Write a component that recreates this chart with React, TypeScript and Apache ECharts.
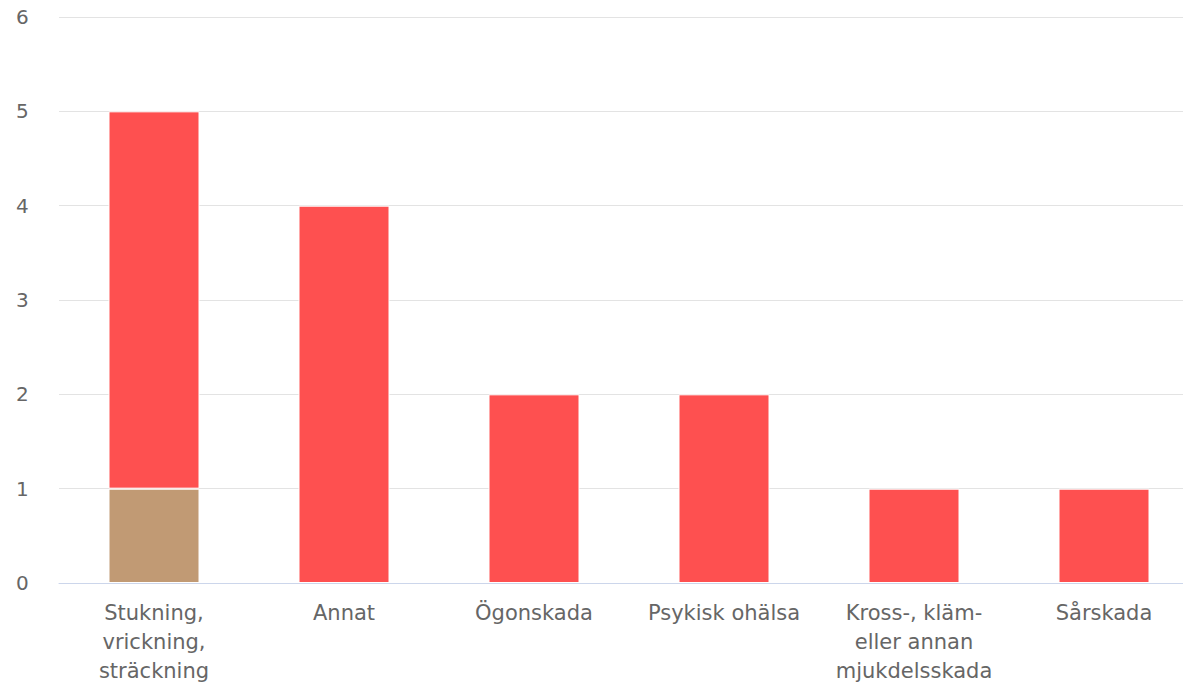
import React, { useEffect, useRef } from "react";
import * as echarts from "echarts";

const categories = [
  "Stukning,\nvrickning,\nsträckning",
  "Annat",
  "Ögonskada",
  "Psykisk ohälsa",
  "Kross-, kläm-\neller annan\nmjukdelsskada",
  "Sårskada",
];
const seriesBrown = [1, 0, 0, 0, 0, 0];
const seriesRed = [4, 4, 2, 2, 1, 1];
const yTicks = [0, 1, 2, 3, 4, 5, 6];

export default function App() {
  const ref = useRef<HTMLDivElement>(null);
  useEffect(() => {
    const chart = echarts.init(ref.current!, null, { renderer: "svg" });
    const font = "DejaVu Sans";
    chart.setOption({
      animation: false,
      grid: { left: 59, right: 1, top: 17, bottom: 103, containLabel: false },
      xAxis: {
        type: "category",
        data: categories,
        axisLine: { lineStyle: { color: "#ccd6eb", width: 1 } },
        axisTick: { show: false },
        axisLabel: {
          color: "#666666",
          fontFamily: font,
          fontSize: 21,
          lineHeight: 29,
          margin: 15,
          interval: 0,
        },
      },
      yAxis: {
        type: "value",
        min: yTicks[0],
        max: yTicks[yTicks.length - 1],
        interval: 1,
        splitLine: { lineStyle: { color: "#e3e3e3", width: 1 } },
        axisLine: { show: false },
        axisTick: { show: false },
        axisLabel: {
          color: "#666666",
          fontFamily: font,
          fontSize: 20,
          align: "left",
          margin: 43,
        },
      },
      series: [
        {
          type: "bar",
          stack: "a",
          data: seriesBrown.map((v) => (v === 0 ? null : v)),
          barWidth: 91,
          itemStyle: { color: "#c19a74", borderColor: "#ffffff", borderWidth: 1 },
        },
        {
          type: "bar",
          stack: "a",
          data: seriesRed,
          barWidth: 91,
          itemStyle: { color: "#fe5050", borderColor: "#ffffff", borderWidth: 1 },
        },
      ],
    });
    return () => chart.dispose();
  }, []);
  return (
    <div
      style={{ position: "absolute", left: 0, top: 0, width: 1183, height: 686, overflow: "hidden" }}
    >
      <div ref={ref} style={{ width: 1200, height: 686 }} />
    </div>
  );
}
